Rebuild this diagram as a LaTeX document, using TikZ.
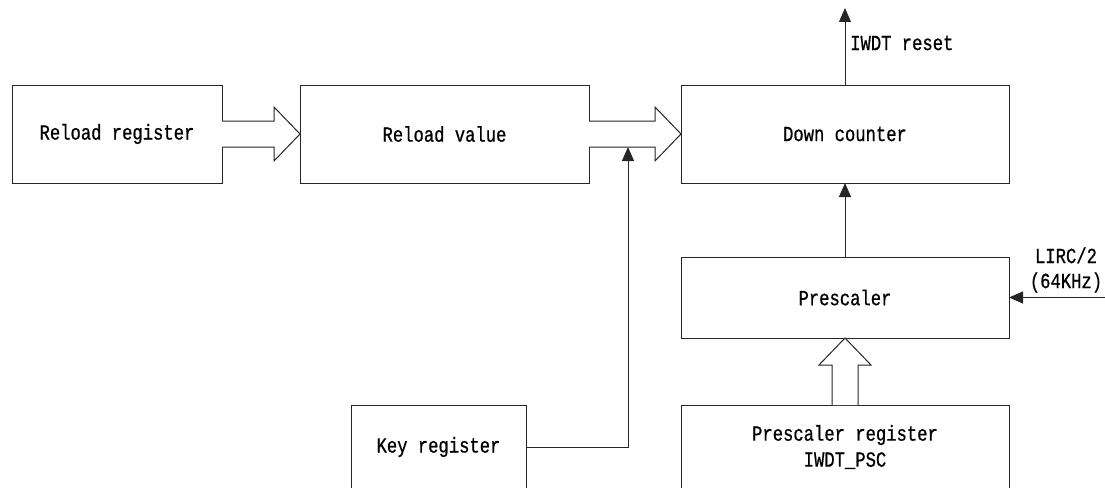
\documentclass[tikz,border=0pt]{standalone}
\usepackage{fontspec}
\setmonofont[FakeStretch=0.8,FakeBold=0.7]{Liberation Mono}
\usepackage{tikz}
\usetikzlibrary{arrows.meta,calc}

\begin{document}
\begin{tikzpicture}[
    x=1pt, y=-1pt,
    block/.style={rectangle,draw=black!85,line width=1pt,inner sep=0pt,outer sep=0pt,
      align=center,font=\ttfamily\fontsize{21.5}{26}\selectfont},
    lbl/.style={inner sep=0pt,align=center,font=\ttfamily\fontsize{21.5}{25}\selectfont},
    sig/.style={draw=black!85,line width=1pt,-{Triangle[width=12pt,length=14pt]}},
    hollow/.style={draw=black!85,line width=1pt,fill=white}
  ]
  \useasboundingbox (0,0) rectangle (1105,487);
  \clip (0,0) rectangle (1105,487);
  % Blocks
  \node[block,minimum width=210,minimum height=98] (rr) at (117,134) {Reload register};
  \node[block,minimum width=289,minimum height=98] (rv) at (444.5,134) {Reload value};
  \node[block,minimum width=328,minimum height=98] (dc) at (845,134) {Down counter};
  \node[block,minimum width=328,minimum height=81] (ps) at (845,297.5) {Prescaler};
  \node[block,minimum width=328,minimum height=84] (pr) at (845,447) {Prescaler register\\IWDT\_PSC};
  \node[block,minimum width=175,minimum height=84] (kr) at (438.5,447) {Key register};
  % Free ends
  \coordinate (rst)  at (845,8);
  \coordinate (lirc) at (1105,297.5);
  \coordinate (kin)  at (628,147);
  % Hollow data arrows
  \foreach \a/\b in {rr/rv, rv/dc} {
    \draw[hollow] ($(\a.east)+(0,-13)$) -- ($(\b.west)+(-26,-13)$) -- ($(\b.west)+(-26,-27)$)
      -- (\b.west) -- ($(\b.west)+(-26,27)$) -- ($(\b.west)+(-26,13)$) -- ($(\a.east)+(0,13)$);
  }
  \draw[hollow] ($(pr.north)+(-13,0)$) -- ($(ps.south)+(-13,27)$) -- ($(ps.south)+(-26,27)$)
    -- (ps.south) -- ($(ps.south)+(26,27)$) -- ($(ps.south)+(13,27)$) -- ($(pr.north)+(13,0)$);
  % Signals
  \draw[sig] (kr.east) -| (kin);
  \draw[sig] (ps.north) -- (dc.south);
  \draw[sig] (dc.north) -- (rst);
  \draw[sig] (lirc) -- (ps.east);
  % Labels
  \node[lbl,anchor=west] (rstlbl) at (850,43) {IWDT reset};
  \node[lbl] (lirclbl) at (1066,270) {LIRC/2\\(64KHz)};
\end{tikzpicture}
\end{document}
